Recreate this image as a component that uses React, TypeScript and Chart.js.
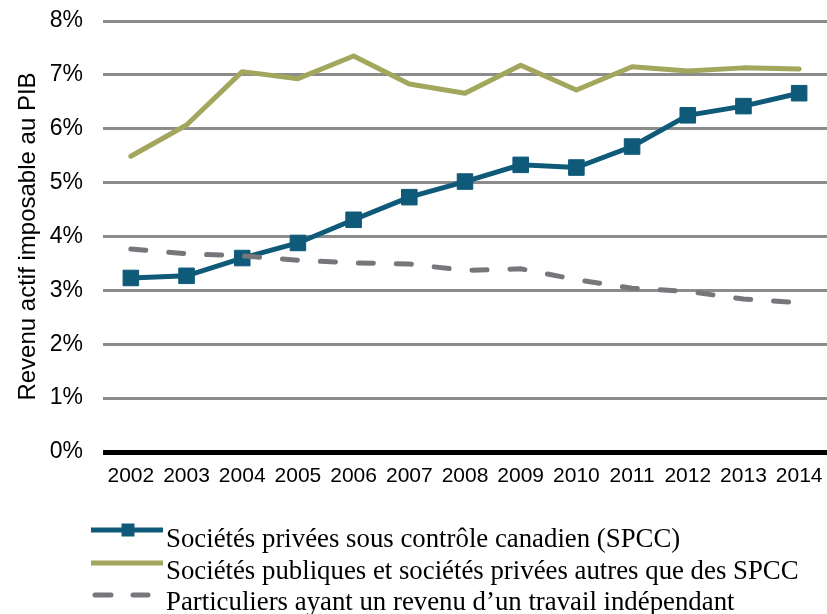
import React, { useEffect, useRef } from "react";
import { Chart, registerables } from "chart.js";

Chart.register(...registerables);

const years = ["2002", "2003", "2004", "2005", "2006", "2007", "2008", "2009", "2010", "2011", "2012", "2013", "2014"];
const spcc = [3.23, 3.27, 3.6, 3.88, 4.31, 4.73, 5.02, 5.33, 5.28, 5.67, 6.25, 6.42, 6.66];
const publiques = [5.49, 6.07, 7.06, 6.93, 7.35, 6.83, 6.66, 7.18, 6.72, 7.15, 7.07, 7.13, 7.11];
const particuliers = [3.77, 3.68, 3.64, 3.56, 3.51, 3.49, 3.37, 3.4, 3.2, 3.04, 2.98, 2.84, 2.77];
const seriesLabels = [
  "Sociétés privées sous contrôle canadien (SPCC)",
  "Sociétés publiques et sociétés privées autres que des SPCC",
  "Particuliers ayant un revenu d\u2019un travail indépendant",
];
const yAxisTitle = "Revenu actif imposable au PIB";

const BLUE = "#0f5a79";
const GREEN = "#a3a65d";
const GRAY = "#77777b";

const legendPlugin = {
  id: "customLegend",
  afterDraw(chart: any) {
    const ctx = chart.ctx as CanvasRenderingContext2D;
    ctx.save();
    const x0 = 91;
    const x1 = 163;
    const rows = [530, 563, 595];
    ctx.lineWidth = 5;
    ctx.strokeStyle = BLUE;
    ctx.beginPath();
    ctx.moveTo(x0, rows[0]);
    ctx.lineTo(x1, rows[0]);
    ctx.stroke();
    ctx.fillStyle = BLUE;
    ctx.fillRect(128 - 6.5, rows[0] - 6.5, 13, 13);
    ctx.strokeStyle = GREEN;
    ctx.beginPath();
    ctx.moveTo(x0, rows[1]);
    ctx.lineTo(x1, rows[1]);
    ctx.stroke();
    ctx.strokeStyle = GRAY;
    ctx.lineCap = "round";
    ctx.beginPath();
    ctx.moveTo(95, rows[2]);
    ctx.lineTo(111, rows[2]);
    ctx.moveTo(133, rows[2]);
    ctx.lineTo(148, rows[2]);
    ctx.stroke();
    ctx.fillStyle = "#000";
    ctx.font = '26.8px "Liberation Serif", "Times New Roman", serif';
    ctx.textBaseline = "alphabetic";
    ctx.textAlign = "left";
    const baselines = [547, 579, 610];
    seriesLabels.forEach((t, i) => ctx.fillText(t, 166, baselines[i]));
    ctx.restore();
  },
};

export default function App() {
  const ref = useRef<HTMLCanvasElement | null>(null);
  useEffect(() => {
    if (!ref.current) return;
    const chart = new Chart(ref.current, {
      type: "line",
      data: {
        labels: years,
        datasets: [
          {
            label: seriesLabels[1],
            data: publiques,
            borderColor: GREEN,
            backgroundColor: GREEN,
            borderWidth: 5,
            pointRadius: 0,
            tension: 0,
            borderJoinStyle: "round",
            borderCapStyle: "round",
          },
          {
            label: seriesLabels[2],
            data: particuliers,
            borderColor: GRAY,
            backgroundColor: GRAY,
            borderWidth: 5,
            borderDash: [15, 23],
            borderCapStyle: "round",
            pointRadius: 0,
            tension: 0,
          },
          {
            label: seriesLabels[0],
            data: spcc,
            borderColor: BLUE,
            backgroundColor: BLUE,
            borderWidth: 5,
            pointStyle: "rect",
            pointRadius: 11,
            pointBorderWidth: 1,
            pointBackgroundColor: BLUE,
            pointBorderColor: BLUE,
            tension: 0,
          },
        ],
      },
      options: {
        animation: false,
        responsive: false,
        devicePixelRatio: 1,
        layout: { autoPadding: false, padding: { top: 21, left: 0, right: 0, bottom: 0 } },
        plugins: {
          legend: { display: false },
          tooltip: { enabled: false },
        },
        scales: {
          x: {
            type: "category",
            offset: true,
            grid: { display: false },
            border: { display: false },
            ticks: {
              color: "#000",
              font: { family: '"Liberation Sans", Arial, sans-serif', size: 21 },
              padding: 4,
              maxRotation: 0,
              autoSkip: false,
            },
            afterFit(scale: any) {
              scale.height = 162;
              scale.paddingLeft = 0;
              scale.paddingRight = 0;
            },
          },
          y: {
            min: 0,
            max: 8,
            ticks: {
              stepSize: 1,
              color: "#000",
              font: { family: '"Liberation Sans", Arial, sans-serif', size: 23 },
              padding: 20,
              callback: (v: any) => `${v}%`,
            },
            grid: {
              drawTicks: false,
              color: (c: any) => (c.tick && c.tick.value === 0 ? "#000" : "#8c8c8c"),
              lineWidth: (c: any) => (c.tick && c.tick.value === 0 ? 5 : 3),
            },
            border: { display: false },
            title: {
              display: true,
              text: yAxisTitle,
              color: "#000",
              font: { family: '"Liberation Sans", Arial, sans-serif', size: 24 },
              padding: { top: 14, bottom: 0 },
            },
            afterFit(scale: any) {
              scale.width = 103;
              scale.paddingTop = 0;
              scale.paddingBottom = 0;
            },
          },
        },
      },
      plugins: [legendPlugin],
    });
    return () => chart.destroy();
  }, []);
  return (
    <div style={{ position: "absolute", left: 0, top: 0, width: 827, height: 614, background: "#fff" }}>
      <canvas ref={ref} width={827} height={614} style={{ display: "block" }} />
    </div>
  );
}
